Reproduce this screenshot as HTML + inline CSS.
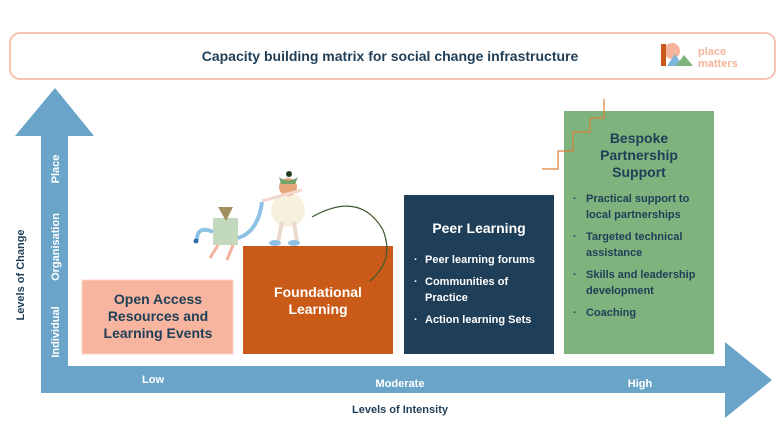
<!DOCTYPE html>
<html><head><meta charset="utf-8"><style>
body{margin:0;background:#fff;}
svg{display:block;font-family:"Liberation Sans",sans-serif;}
</style></head><body>
<svg width="780" height="438" viewBox="0 0 780 438">
<rect x="10" y="33" width="765" height="46" rx="10" fill="#fff" stroke="#f7c3b0" stroke-width="2"/>
<text x="390" y="61" text-anchor="middle" font-size="14" font-weight="bold" fill="#1f3e57">Capacity building matrix for social change infrastructure</text>
<circle cx="672" cy="51" r="8" fill="#f5b39b"/>
<rect x="661" y="44" width="5" height="22" fill="#c9581b"/>
<polygon points="667,66 675,54 683,66" fill="#7eb6d9"/>
<polygon points="676,66 684,55 693,66" fill="#7eb37a"/>
<text x="698" y="55" font-size="11" font-weight="bold" fill="#f5b39b">place</text>
<text x="698" y="67" font-size="11" font-weight="bold" fill="#f5b39b">matters</text>
<!-- axes -->
<g fill="#6aa4c9">
<polygon points="55,88 94,136 68,136 68,366 725,366 725,342 772,380 725,418 725,393 41,393 41,136 15,136"/>
</g>
<g fill="#fff" font-size="11" font-weight="bold">
<text transform="translate(59,332) rotate(-90)" text-anchor="middle">Individual</text>
<text transform="translate(59,247) rotate(-90)" text-anchor="middle">Organisation</text>
<text transform="translate(59,169) rotate(-90)" text-anchor="middle">Place</text>
<text x="153" y="383" text-anchor="middle">Low</text>
<text x="400" y="387" text-anchor="middle">Moderate</text>
<text x="640" y="387" text-anchor="middle">High</text>
</g>
<text transform="translate(24,275) rotate(-90)" text-anchor="middle" font-size="11" font-weight="bold" fill="#1f3e57">Levels of Change</text>
<text x="400" y="413" text-anchor="middle" font-size="11" font-weight="bold" fill="#1f3e57">Levels of Intensity</text>
<!-- boxes -->
<rect x="82" y="280" width="151" height="74" fill="#f7b59f" stroke="#fbd3c4"/>
<g font-size="14" font-weight="bold" fill="#1f3e57" text-anchor="middle">
<text x="158" y="304">Open Access</text>
<text x="158" y="321">Resources and</text>
<text x="158" y="338">Learning Events</text>
</g>
<rect x="243" y="246" width="150" height="108" fill="#c95a18"/>
<g font-size="14" font-weight="bold" fill="#fff" text-anchor="middle">
<text x="318" y="297">Foundational</text>
<text x="318" y="314">Learning</text>
</g>
<path d="M312,217 Q360,190 383,230 Q395,260 370,281" fill="none" stroke="#3f5a35" stroke-width="1.2"/>
<rect x="404" y="195" width="150" height="159" fill="#1f3e57"/>
<text x="479" y="233" text-anchor="middle" font-size="14" font-weight="bold" fill="#fff">Peer Learning</text>
<g font-size="11" font-weight="bold" fill="#fff">
<text x="414" y="263">·</text><text x="425" y="263">Peer learning forums</text>
<text x="414" y="285">·</text><text x="425" y="285">Communities of</text><text x="425" y="301">Practice</text>
<text x="414" y="323">·</text><text x="425" y="323">Action learning Sets</text>
</g>
<rect x="564" y="111" width="150" height="243" fill="#7eb37e"/>
<g font-size="14" font-weight="bold" fill="#1f3e57" text-anchor="middle">
<text x="639" y="143">Bespoke</text>
<text x="639" y="160">Partnership</text>
<text x="639" y="177">Support</text>
</g>
<g font-size="11" font-weight="bold" fill="#1f3e57">
<text x="573" y="202">·</text><text x="586" y="202">Practical support to</text><text x="586" y="218">local partnerships</text>
<text x="573" y="240">·</text><text x="586" y="240">Targeted technical</text><text x="586" y="256">assistance</text>
<text x="573" y="278">·</text><text x="586" y="278">Skills and leadership</text><text x="586" y="294">development</text>
<text x="573" y="316">·</text><text x="586" y="316">Coaching</text>
</g>
<path d="M542,169 L558,169 L558,151 L573,151 L573,132 L590,132 L590,118 L604,118 L604,99" fill="none" stroke="#d9823a" stroke-width="1.2"/>
<!-- figures -->
<rect x="213" y="218" width="25" height="27" fill="#c2d9bd"/>
<polygon points="218,207 233,207 226,221" fill="#a09060"/>
<path d="M213,232 Q197,225 197,240" fill="none" stroke="#8ec1e6" stroke-width="4"/>
<circle cx="196" cy="241" r="2.5" fill="#2f6fa5"/>
<path d="M238,238 Q258,232 262,202" fill="none" stroke="#8ec1e6" stroke-width="4"/>
<path d="M218,245 L210,258 M233,245 L227,260" stroke="#f1b39b" stroke-width="3"/>
<circle cx="288" cy="210" r="17" fill="#f6f1dc"/>
<circle cx="288" cy="187" r="9" fill="#e8a77a"/>
<path d="M279,177 Q288,184 298,177 L295,184 L281,184Z" fill="#6fa36a"/>
<circle cx="289" cy="174" r="3" fill="#1f3e20"/>
<path d="M262,201 L302,190" stroke="#f3d8cf" stroke-width="3"/>
<path d="M282,222 L278,242 M294,222 L297,242" stroke="#ead9cc" stroke-width="4"/>
<ellipse cx="275" cy="243" rx="6" ry="3" fill="#8ec1e6"/>
<ellipse cx="294" cy="243" rx="6" ry="3" fill="#8ec1e6"/>
</svg>
</body></html>
